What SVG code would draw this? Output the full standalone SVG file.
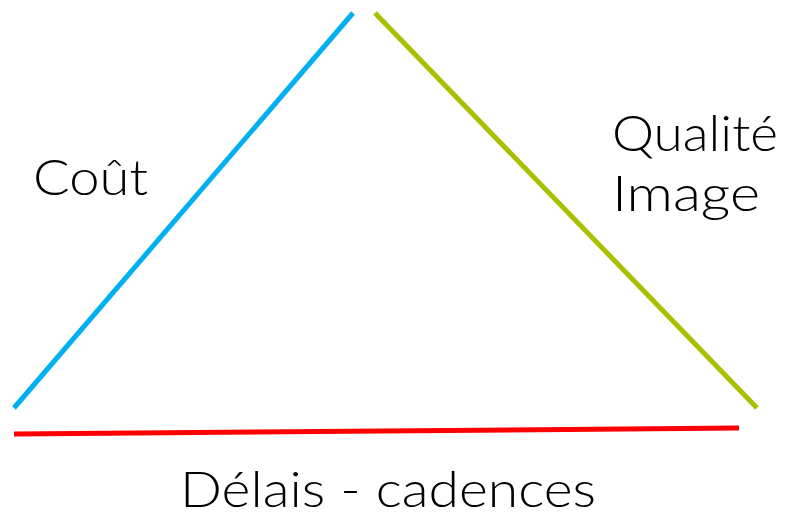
<svg xmlns="http://www.w3.org/2000/svg" width="785" height="516" viewBox="0 0 785 516">
  <style>
    .side { fill: none; stroke-width: 5; stroke-linecap: butt; }
    .label { font-family: "Lato", "DejaVu Sans", sans-serif; font-weight: 300; font-size: 49px; fill: #000000; }
  </style>
  <rect width="785" height="516" fill="#ffffff"/>
  <!-- triangle sides -->
  <g id="connectors">
    <line class="side" x1="14" y1="408" x2="353" y2="13" stroke="#00B0F0"/>
    <line class="side" x1="375" y1="13" x2="757" y2="408" stroke="#A8C000"/>
    <line class="side" x1="14" y1="434" x2="739" y2="428" stroke="#FF0000"/>
  </g>
  <g id="cout">
    <text class="label" x="33" y="195" textLength="115" lengthAdjust="spacingAndGlyphs">Coût</text>
  </g>
  <g id="qualite-image">
    <text class="label" x="612" y="151" textLength="166" lengthAdjust="spacingAndGlyphs">Qualité</text>
    <text class="label" x="612" y="211" textLength="148" lengthAdjust="spacingAndGlyphs">Image</text>
  </g>
  <g id="delais-cadences">
    <text class="label" x="180" y="507" textLength="416" lengthAdjust="spacingAndGlyphs">Délais - cadences</text>
  </g>
</svg>
